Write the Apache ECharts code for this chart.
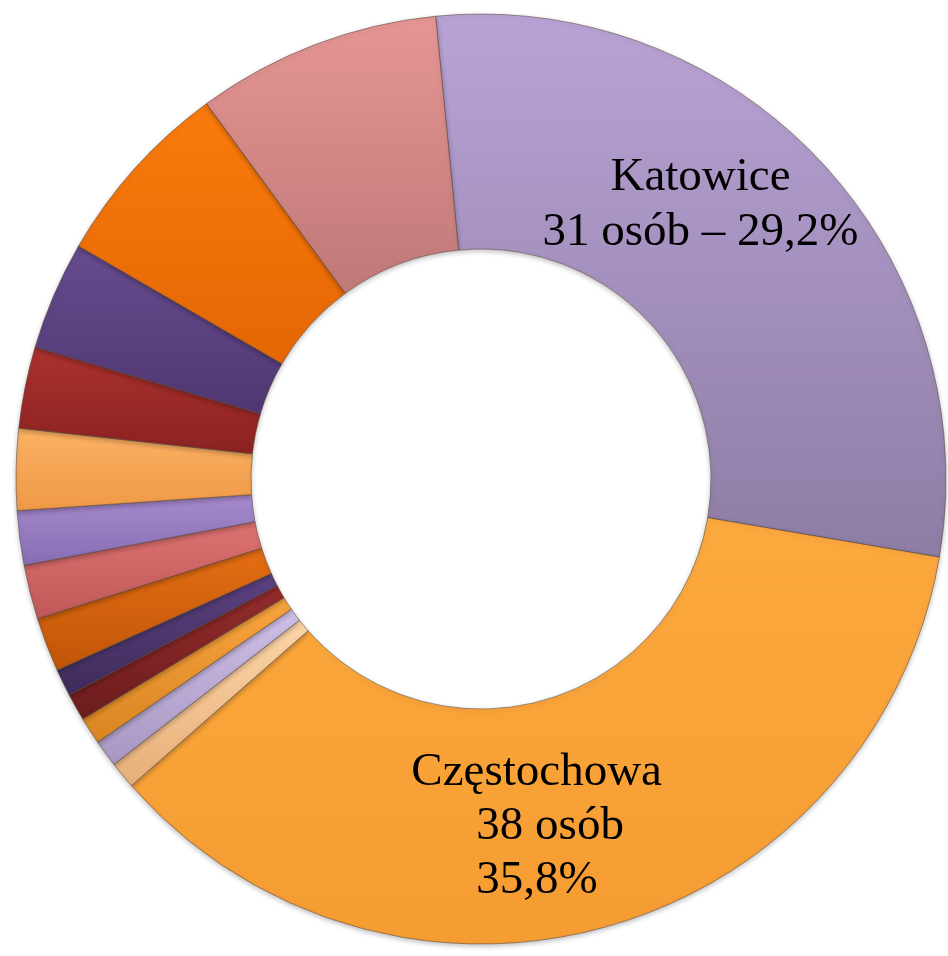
<!DOCTYPE html>
<html>
<head>
<meta charset="utf-8">
<script src="https://cdn.jsdelivr.net/npm/echarts@6/dist/echarts.min.js"></script>
<style>html,body{margin:0;padding:0;background:#fff;}#c{width:948px;height:956px;}</style>
</head>
<body>
<div id="c"></div>
<script>
// Categories (only the two largest are named in the picture)
var categories = ['Katowice', 'Częstochowa', '', '', '', '', '', '', '', '', '', '', '', '', ''];
// Number of persons per slice, clockwise from the top
var values = [31, 38, 1, 1, 1, 1, 1, 2, 2, 2, 3, 3, 4, 7, 9];
// Percent labels shown on the chart
var percentLabels = ['29,2%', '35,8%'];
// Slice colours: [light, dark]
var colors = [
  ['#b9a3d6', '#8d7da4'],
  ['#fca93e', '#f59c32'],
  ['#fcd6a8', '#e7ae78'],
  ['#cfc0e8', '#a696c0'],
  ['#f8a43e', '#d88522'],
  ['#942c2c', '#6c1c1c'],
  ['#5c4282', '#3e2b5a'],
  ['#e46e14', '#c05508'],
  ['#de7272', '#bf5858'],
  ['#a68ace', '#876db2'],
  ['#fcb264', '#ef9946'],
  ['#ab322e', '#8a2222'],
  ['#674c8e', '#4f3772'],
  ['#fa7b0c', '#e46604'],
  ['#e69694', '#bf7977']
];

var chart = echarts.init(document.getElementById('c'), null, {renderer: 'canvas'});
var data = values.map(function (v, i) {
  var item = {
    name: categories[i],
    value: v,
    itemStyle: {
      color: new echarts.graphic.LinearGradient(0, 0, 0, 1, [
        {offset: 0, color: colors[i][0]},
        {offset: 1, color: colors[i][1]}
      ])
    },
    label: {show: false}
  };
  if (i === 0) {
    item.label = {
      show: true,
      position: 'inside',
      formatter: categories[i] + '\n' + v + ' osób – ' + percentLabels[0],
      fontFamily: 'Liberation Serif',
      fontSize: 47,
      lineHeight: 55,
      color: '#000'
    };
  } else if (i === 1) {
    item.label = {
      show: true,
      position: 'inside',
      formatter: '{a|' + categories[i] + '}\n{b|' + v + ' osób}\n{b|' + percentLabels[1] + '}',
      fontFamily: 'Liberation Serif',
      fontSize: 47,
      lineHeight: 54,
      color: '#000',
      rich: {
        a: {fontFamily: 'Liberation Serif', fontSize: 47, lineHeight: 54, color: '#000'},
        b: {fontFamily: 'Liberation Serif', fontSize: 47, lineHeight: 54, color: '#000', padding: [0, 0, 0, 65]}
      }
    };
  }
  return item;
});

chart.setOption({
  animation: false,
  backgroundColor: '#ffffff',
  series: [{
    type: 'pie',
    center: [481, 479],
    radius: [230, 465],
    startAngle: 95.6,
    clockwise: true,
    avoidLabelOverlap: false,
    itemStyle: {
      borderColor: 'rgba(90,70,60,0.55)',
      borderWidth: 1,
      shadowBlur: 5,
      shadowColor: 'rgba(0,0,0,0.25)',
      shadowOffsetY: 2
    },
    labelLine: {show: false},
    emphasis: {disabled: true},
    labelLayout: function (p) {
      if (p.dataIndex === 0) {
        return {dx: -37, dy: -35};
      }
      if (p.dataIndex === 1) {
        return {dx: -165, dy: 10, align: 'left'};
      }
      return {};
    },
    data: data
  }]
});
</script>
</body>
</html>
